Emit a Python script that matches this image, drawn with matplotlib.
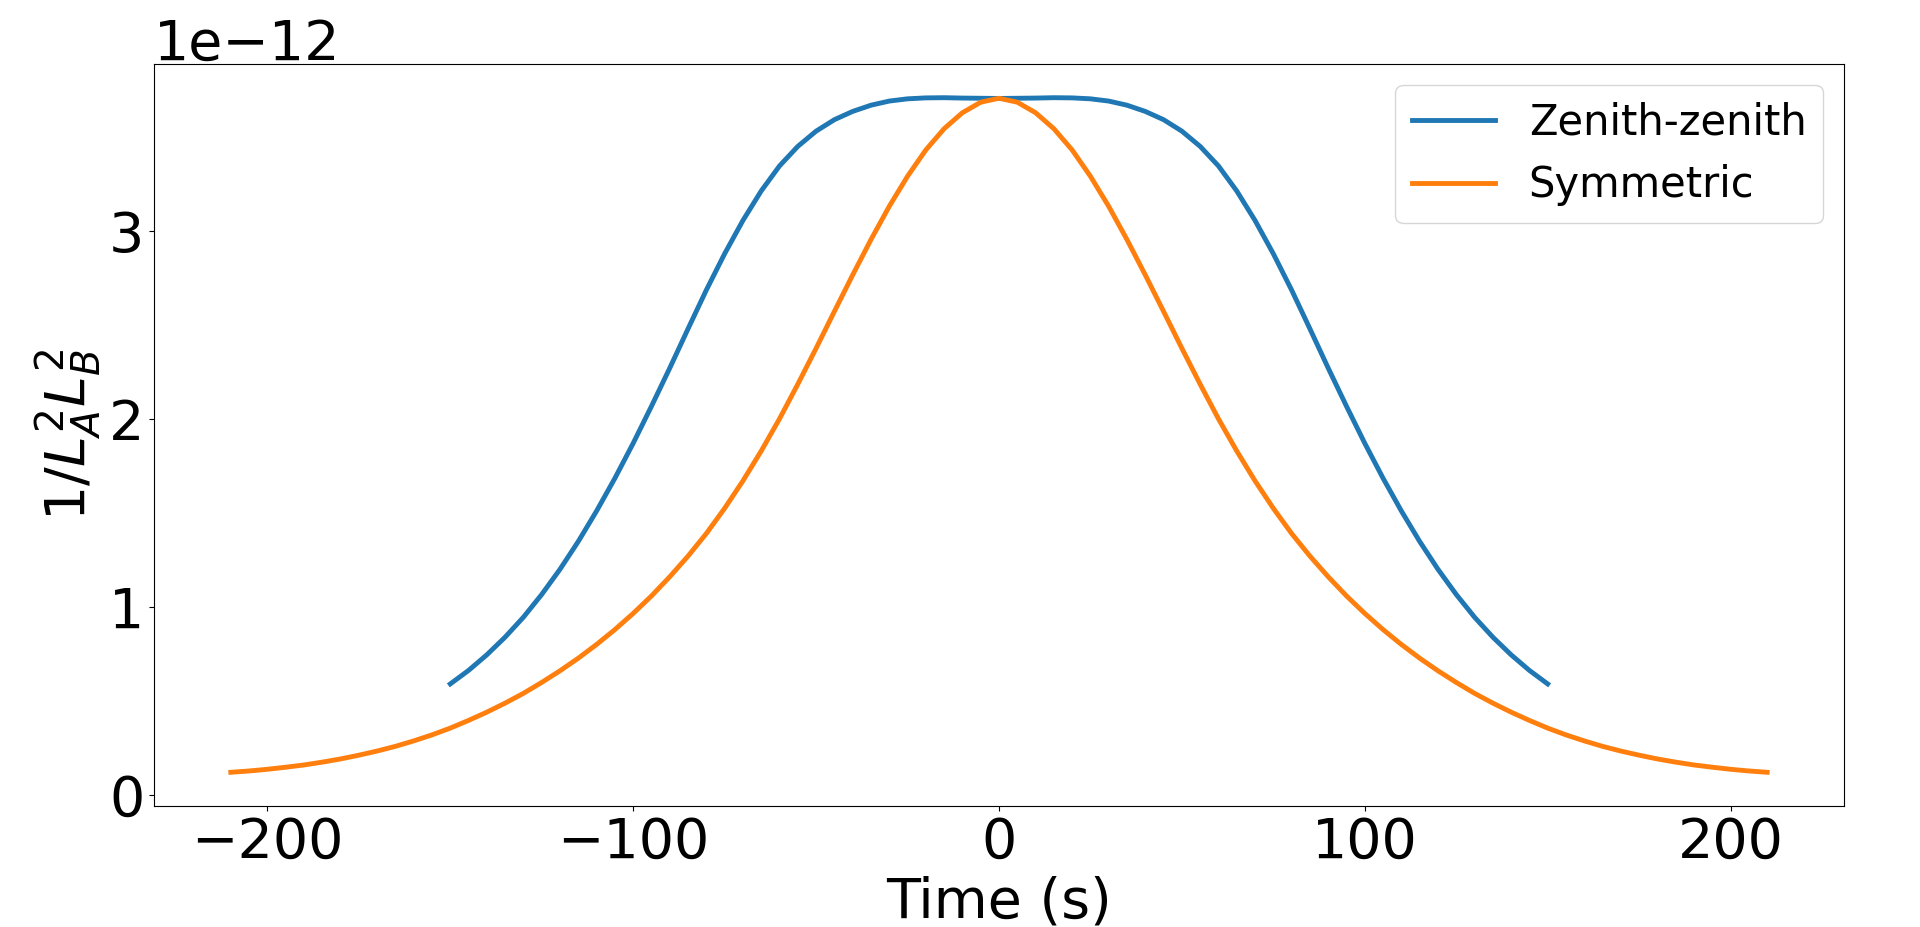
import matplotlib
matplotlib.use("Agg")
import matplotlib.pyplot as plt
import numpy as np

# ------------------------------------------------------------
# Datos (valores en unidades de 1e-12)
# ------------------------------------------------------------
t_zenith = [-150, -145, -140, -135, -130, -125, -120, -115, -110, -105,
            -100, -95, -90, -85, -80, -75, -70, -65, -60, -55,
            -50, -45, -40, -35, -30, -25, -20, -15, -10, -5,
            0, 5, 10, 15, 20, 25, 30, 35, 40, 45,
            50, 55, 60, 65, 70, 75, 80, 85, 90, 95,
            100, 105, 110, 115, 120, 125, 130, 135, 140, 145, 150]
zenith = [0.590, 0.662, 0.745, 0.839, 0.945, 1.066, 1.200, 1.348, 1.510, 1.684,
          1.870, 2.067, 2.270, 2.479, 2.685, 2.878, 3.055, 3.212, 3.345, 3.449,
          3.530, 3.591, 3.635, 3.668, 3.690, 3.702, 3.707, 3.708, 3.706, 3.705,
          3.704, 3.705, 3.706, 3.708, 3.707, 3.702, 3.690, 3.668, 3.635, 3.591,
          3.530, 3.449, 3.345, 3.212, 3.055, 2.878, 2.685, 2.479, 2.270, 2.067,
          1.870, 1.684, 1.510, 1.348, 1.200, 1.066, 0.945, 0.839, 0.745, 0.662, 0.590]

t_sym = [-210, -205, -200, -195, -190, -185, -180, -175, -170, -165,
         -160, -155, -150, -145, -140, -135, -130, -125, -120, -115,
         -110, -105, -100, -95, -90, -85, -80, -75, -70, -65,
         -60, -55, -50, -45, -40, -35, -30, -25, -20, -15,
         -10, -5, 0, 5, 10, 15, 20, 25, 30, 35,
         40, 45, 50, 55, 60, 65, 70, 75, 80, 85,
         90, 95, 100, 105, 110, 115, 120, 125, 130, 135,
         140, 145, 150, 155, 160, 165, 170, 175, 180, 185,
         190, 195, 200, 205, 210]
symmetric = [0.120, 0.127, 0.136, 0.147, 0.159, 0.174, 0.191, 0.211, 0.233, 0.258,
             0.287, 0.319, 0.355, 0.396, 0.440, 0.488, 0.540, 0.598, 0.660, 0.727,
             0.800, 0.879, 0.965, 1.058, 1.160, 1.270, 1.390, 1.524, 1.670, 1.829,
             2.000, 2.184, 2.375, 2.571, 2.765, 2.953, 3.130, 3.290, 3.430, 3.543,
             3.628, 3.684, 3.705, 3.684, 3.628, 3.543, 3.430, 3.290, 3.130, 2.953,
             2.765, 2.571, 2.375, 2.184, 2.000, 1.829, 1.670, 1.524, 1.390, 1.270,
             1.160, 1.058, 0.965, 0.879, 0.800, 0.727, 0.660, 0.598, 0.540, 0.488,
             0.440, 0.396, 0.355, 0.319, 0.287, 0.258, 0.233, 0.211, 0.191, 0.174,
             0.159, 0.147, 0.136, 0.127, 0.120]

scale = 1e-12

fig = plt.figure(figsize=(19.2, 9.27), dpi=100)
ax = fig.add_axes([0.0802, 0.1305, 0.8802, 0.8005])

ax.plot(t_zenith, np.array(zenith) * scale, linewidth=3.5, label="Zenith-zenith")
ax.plot(t_sym, np.array(symmetric) * scale, linewidth=3.5, label="Symmetric")

ax.set_xlabel("Time (s)", fontsize=40)
ax.set_ylabel(r"$1/L_A^2L_B^2$", fontsize=40)
ax.tick_params(axis="both", labelsize=40)
ax.yaxis.get_offset_text().set_fontsize(40)
ax.legend(fontsize=30, loc="upper right")

fig.savefig("out.png", dpi=100)
